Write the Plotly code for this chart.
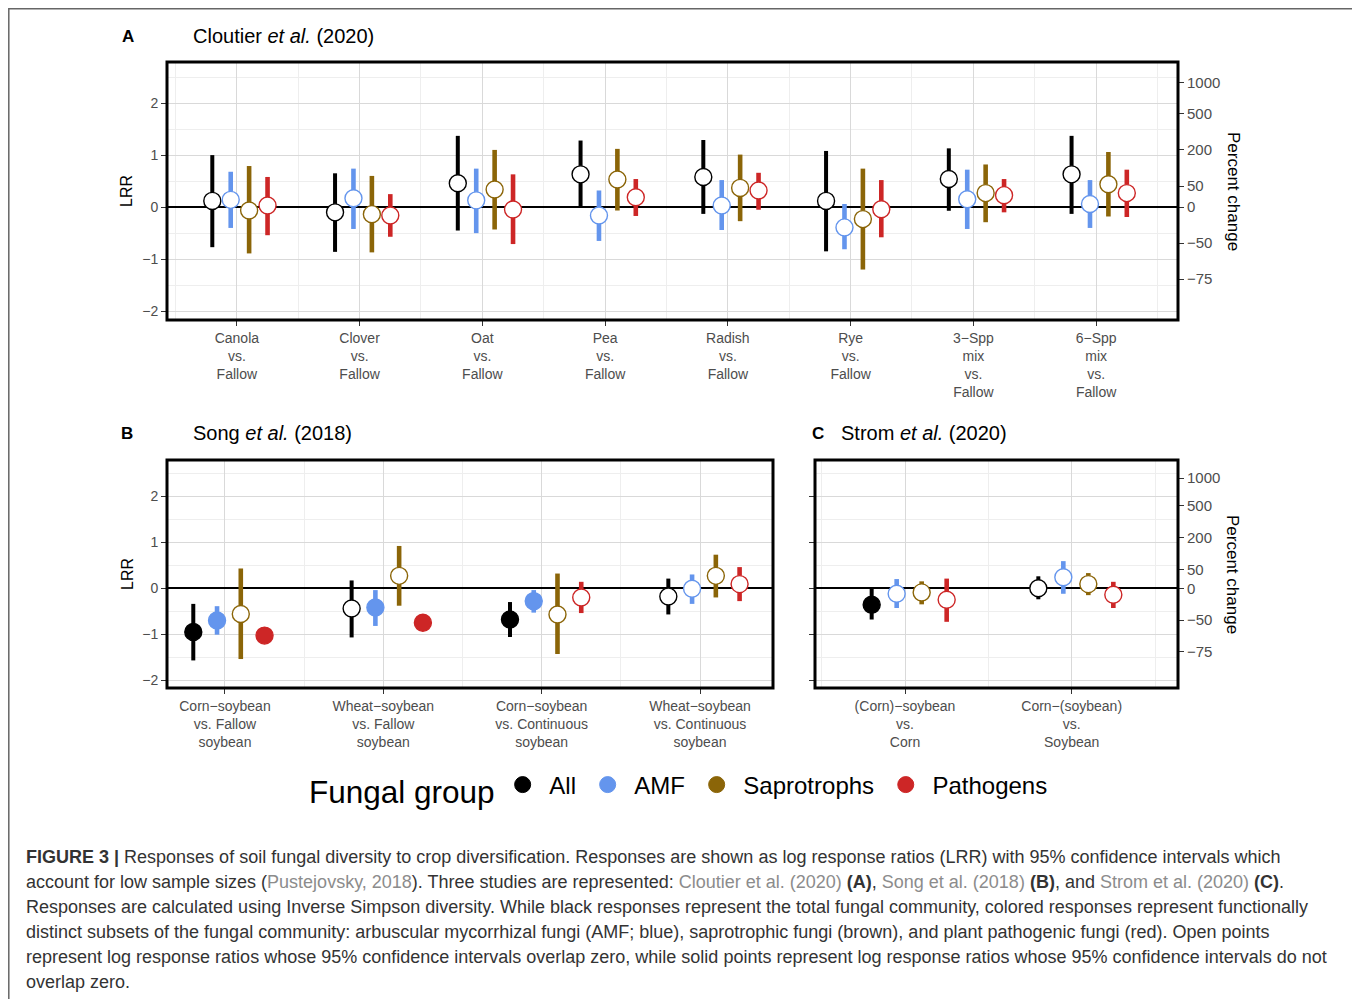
import numpy as np
import plotly.graph_objects as go

W, H = 1360, 999
OFF = 8  # the page body adds an 8px margin; positions below are given in screen pixels

# ---------------- data ----------------
GROUPS = ["All", "AMF", "Saprotrophs", "Pathogens"]
COLORS = ["#000000", "#6495ED", "#8B6508", "#CD2626"]

A_LABELS = ["Canola<br>vs.<br>Fallow", "Clover<br>vs.<br>Fallow", "Oat<br>vs.<br>Fallow",
            "Pea<br>vs.<br>Fallow", "Radish<br>vs.<br>Fallow", "Rye<br>vs.<br>Fallow",
            "3\u2212Spp<br>mix<br>vs.<br>Fallow", "6\u2212Spp<br>mix<br>vs.<br>Fallow"]
B_LABELS = ["Corn\u2212soybean<br>vs. Fallow<br>soybean", "Wheat\u2212soybean<br>vs. Fallow<br>soybean",
            "Corn\u2212soybean<br>vs. Continuous<br>soybean", "Wheat\u2212soybean<br>vs. Continuous<br>soybean"]
C_LABELS = ["(Corn)\u2212soybean<br>vs.<br>Corn", "Corn\u2212(soybean)<br>vs.<br>Soybean"]

# Panel A (Cloutier et al. 2020): LRR estimate, lower and upper 95% CI
A_ALL_EST = [0.12, -0.10, 0.46, 0.63, 0.58, 0.12, 0.54, 0.63]
A_ALL_LO = [-0.77, -0.86, -0.45, -0.01, -0.13, -0.85, -0.07, -0.13]
A_ALL_HI = [1.00, 0.65, 1.37, 1.28, 1.29, 1.08, 1.13, 1.37]
A_AMF_EST = [0.14, 0.17, 0.13, -0.16, 0.03, -0.39, 0.15, 0.06]
A_AMF_LO = [-0.40, -0.42, -0.50, -0.65, -0.44, -0.81, -0.42, -0.40]
A_AMF_HI = [0.68, 0.74, 0.74, 0.32, 0.52, 0.06, 0.72, 0.52]
A_SAP_EST = [-0.065, -0.135, 0.34, 0.53, 0.37, -0.23, 0.27, 0.44]
A_SAP_LO = [-0.89, -0.87, -0.43, -0.065, -0.27, -1.20, -0.29, -0.18]
A_SAP_HI = [0.79, 0.60, 1.10, 1.12, 1.01, 0.74, 0.82, 1.06]
A_PAT_EST = [0.03, -0.16, -0.045, 0.19, 0.32, -0.04, 0.23, 0.27]
A_PAT_LO = [-0.54, -0.57, -0.71, -0.17, -0.05, -0.58, -0.10, -0.19]
A_PAT_HI = [0.58, 0.25, 0.63, 0.54, 0.66, 0.52, 0.54, 0.72]

# Panel B (Song et al. 2018)
B_ALL_EST = [-0.95, -0.44, -0.68, -0.18]
B_ALL_LO = [-1.57, -1.07, -1.06, -0.57]
B_ALL_HI = [-0.34, 0.17, -0.30, 0.21]
B_AMF_EST = [-0.70, -0.42, -0.28, -0.01]
B_AMF_LO = [-1.01, -0.82, -0.53, -0.34]
B_AMF_HI = [-0.39, -0.04, -0.04, 0.30]
B_SAP_EST = [-0.56, 0.27, -0.57, 0.27]
B_SAP_LO = [-1.54, -0.38, -1.43, -0.20]
B_SAP_HI = [0.43, 0.92, 0.32, 0.73]
B_PAT_EST = [-1.03, -0.75, -0.20, 0.09]
B_PAT_LO = [-1.12, -0.84, -0.54, -0.28]
B_PAT_HI = [-0.94, -0.66, 0.14, 0.46]

# Panel C (Strom et al. 2020)
C_ALL_EST = [-0.36, 0.00]
C_ALL_LO = [-0.68, -0.24]
C_ALL_HI = [-0.01, 0.26]
C_AMF_EST = [-0.12, 0.24]
C_AMF_LO = [-0.43, -0.12]
C_AMF_HI = [0.20, 0.59]
C_SAP_EST = [-0.09, 0.09]
C_SAP_LO = [-0.35, -0.15]
C_SAP_HI = [0.15, 0.33]
C_PAT_EST = [-0.25, -0.14]
C_PAT_LO = [-0.73, -0.43]
C_PAT_HI = [0.21, 0.14]

PCT_TICKS = [1000, 500, 200, 50, 0, -50, -75]
LRR_TICKS = [-2, -1, 0, 1, 2]

# ---------------- style ----------------
DODGE = [-0.2, -0.05, 0.1, 0.25]
FONT = "Liberation Sans, Arial, Helvetica, sans-serif"
TICKCOL = "#4D4D4D"
GRID = "#D9D9D9"
MINOR = "#EEEEEE"
YRANGE = [-2.17, 2.79]
NBSP = "\u00a0"

fig = go.Figure()


def add_panel(xa, ya, series):
    for g, (est, lo, hi) in enumerate(series):
        xs = [i + 1 + DODGE[g] for i in range(len(est))]
        sig = [(l > 0) or (h < 0) for l, h in zip(lo, hi)]
        fill = [COLORS[g] if s else "white" for s in sig]
        fig.add_trace(go.Scatter(
            x=xs, y=est, mode="markers", xaxis=xa, yaxis=ya,
            marker=dict(size=17, color=fill, line=dict(color=COLORS[g], width=1.4)),
            error_y=dict(type="data", symmetric=False,
                         array=[h - e for e, h in zip(est, hi)],
                         arrayminus=[e - l for e, l in zip(est, lo)],
                         color=COLORS[g], thickness=4 if g == 0 else 4.6, width=0),
            showlegend=False, hoverinfo="skip"))


add_panel("x", "y", [(A_ALL_EST, A_ALL_LO, A_ALL_HI), (A_AMF_EST, A_AMF_LO, A_AMF_HI),
                     (A_SAP_EST, A_SAP_LO, A_SAP_HI), (A_PAT_EST, A_PAT_LO, A_PAT_HI)])
add_panel("x2", "y2", [(B_ALL_EST, B_ALL_LO, B_ALL_HI), (B_AMF_EST, B_AMF_LO, B_AMF_HI),
                       (B_SAP_EST, B_SAP_LO, B_SAP_HI), (B_PAT_EST, B_PAT_LO, B_PAT_HI)])
add_panel("x3", "y3", [(C_ALL_EST, C_ALL_LO, C_ALL_HI), (C_AMF_EST, C_AMF_LO, C_AMF_HI),
                       (C_SAP_EST, C_SAP_LO, C_SAP_HI), (C_PAT_EST, C_PAT_LO, C_PAT_HI)])

# invisible traces so that the secondary (percent change) axes are drawn
fig.add_trace(go.Scatter(x=[None], y=[None], xaxis="x", yaxis="y4", showlegend=False, hoverinfo="skip"))
fig.add_trace(go.Scatter(x=[None], y=[None], xaxis="x3", yaxis="y5", showlegend=False, hoverinfo="skip"))

# legend entries
for name, col in zip(GROUPS, COLORS):
    fig.add_trace(go.Scatter(x=[None], y=[None], mode="markers", name=NBSP + name + NBSP,
                             marker=dict(size=20, color=col, line=dict(color=col, width=1))))


def px_x(p):
    return (p - OFF) / W


def px_y(p):
    return 1 - (p - OFF) / H


def xaxis(dom, anchor, rng, labels):
    return dict(domain=[px_x(dom[0]), px_x(dom[1])], anchor=anchor, range=rng,
                tickmode="array", tickvals=list(range(1, len(labels) + 1)), ticktext=labels,
                ticks="outside", ticklen=5, tickwidth=1, tickcolor="#333333",
                tickfont=dict(size=14, color=TICKCOL, family=FONT),
                showgrid=True, gridcolor=GRID, gridwidth=1.2,
                minor=dict(tick0=0.5, dtick=1, showgrid=True, gridcolor=MINOR, gridwidth=1),
                showline=False, zeroline=False, fixedrange=True)


def yaxis(dom, anchor, labels=True):
    return dict(domain=[px_y(dom[1]), px_y(dom[0])], anchor=anchor, range=YRANGE,
                tickmode="array", tickvals=LRR_TICKS, showticklabels=labels,
                ticks="outside", ticklen=5, tickwidth=1, tickcolor="#333333",
                tickfont=dict(size=14, color=TICKCOL, family=FONT),
                showgrid=True, gridcolor=GRID, gridwidth=1.2,
                minor=dict(tick0=0, dtick=0.5, showgrid=True, gridcolor=MINOR, gridwidth=1),
                zeroline=True, zerolinecolor="black", zerolinewidth=1.6,
                showline=False, fixedrange=True)


def pct_axis(over, anchor):
    return dict(overlaying=over, anchor=anchor, side="right", range=YRANGE,
                tickmode="array", tickvals=[float(np.log(1 + p / 100)) for p in PCT_TICKS],
                ticktext=[str(p).replace("-", "\u2212") for p in PCT_TICKS],
                ticks="outside", ticklen=5, tickwidth=1, tickcolor="#333333",
                tickfont=dict(size=15, color=TICKCOL, family=FONT),
                showgrid=False, zeroline=False, showline=False, fixedrange=True)


fig.update_layout(
    width=W, height=H, margin=dict(l=0, r=0, t=0, b=0),
    paper_bgcolor="white", plot_bgcolor="white",
    font=dict(family=FONT, color="black"),
    xaxis=xaxis((167, 1178), "y", [0.431, 8.667], A_LABELS),
    yaxis=yaxis((62, 320), "x"),
    xaxis2=xaxis((167, 773), "y2", [0.634, 4.461], B_LABELS),
    yaxis2=yaxis((460, 688), "x2"),
    xaxis3=xaxis((815, 1178), "y3", [0.46, 2.638], C_LABELS),
    yaxis3=yaxis((460, 688), "x3", labels=False),
    yaxis4=pct_axis("y", "x"),
    yaxis5=pct_axis("y3", "x3"),
    showlegend=True,
    legend=dict(orientation="h", x=px_x(307), xanchor="left", y=px_y(788), yanchor="middle",
                title=dict(text="Fungal group", font=dict(size=31.5, family=FONT), side="left"),
                font=dict(size=24, family=FONT), itemsizing="trace", bgcolor="rgba(0,0,0,0)",
                tracegroupgap=0, itemwidth=30),
)

shapes = []
for xr, yr in [("x", "y"), ("x2", "y2"), ("x3", "y3")]:
    shapes.append(dict(type="rect", xref=xr + " domain", yref=yr + " domain", x0=0, x1=1, y0=0, y1=1,
                       line=dict(color="black", width=3), layer="above"))
shapes.append(dict(type="rect", xref="paper", yref="paper", x0=px_x(8.8), x1=px_x(1355),
                   y0=-0.01, y1=px_y(8.8), line=dict(color="#666666", width=1.5)))
fig.update_layout(shapes=shapes)

ann = []


def text(x, y, s, size, xanchor="left", angle=0, color="black", yanchor="middle"):
    ann.append(dict(x=px_x(x), y=px_y(y), xref="paper", yref="paper", text=s, showarrow=False,
                    xanchor=xanchor, yanchor=yanchor, textangle=angle,
                    font=dict(size=size, color=color, family=FONT)))


text(128, 36, "<b>A</b>", 17, "center")
text(191, 36, "Cloutier <i>et al.</i> (2020)", 20)
text(127, 433, "<b>B</b>", 17, "center")
text(191, 433, "Song <i>et al.</i> (2018)", 20)
text(818, 433, "<b>C</b>", 17, "center")
text(839, 433, "Strom <i>et al.</i> (2020)", 20)
text(127, 191, "LRR", 16, "center", -90)
text(127, 574, "LRR", 16, "center", -90)
text(1233, 191, "Percent change", 17, "center", 90)
text(1233, 574, "Percent change", 17, "center", 90)

LINK = "#8C8C8C"
CAP = "#333333"


def link(s):
    return "<span style='color:%s'>%s</span>" % (LINK, s)


caption = [
    "<b>FIGURE 3 |</b> Responses of soil fungal diversity to crop diversification. Responses are shown as log response ratios (LRR) with 95% confidence intervals which",
    "account for low sample sizes (" + link("Pustejovsky, 2018") + "). Three studies are represented: "
    + link("Cloutier et al. (2020)") + " <b>(A)</b>, " + link("Song et al. (2018)") + " <b>(B)</b>, and "
    + link("Strom et al. (2020)") + " <b>(C)</b>.",
    "Responses are calculated using Inverse Simpson diversity. While black responses represent the total fungal community, colored responses represent functionally",
    "distinct subsets of the fungal community: arbuscular mycorrhizal fungi (AMF; blue), saprotrophic fungi (brown), and plant pathogenic fungi (red). Open points",
    "represent log response ratios whose 95% confidence intervals overlap zero, while solid points represent log response ratios whose 95% confidence intervals do not",
    "overlap zero.",
]
for i, line in enumerate(caption):
    text(24, 857 + 25 * i, line, 18, color=CAP)

fig.update_layout(annotations=ann)
fig.write_html("out.html")
